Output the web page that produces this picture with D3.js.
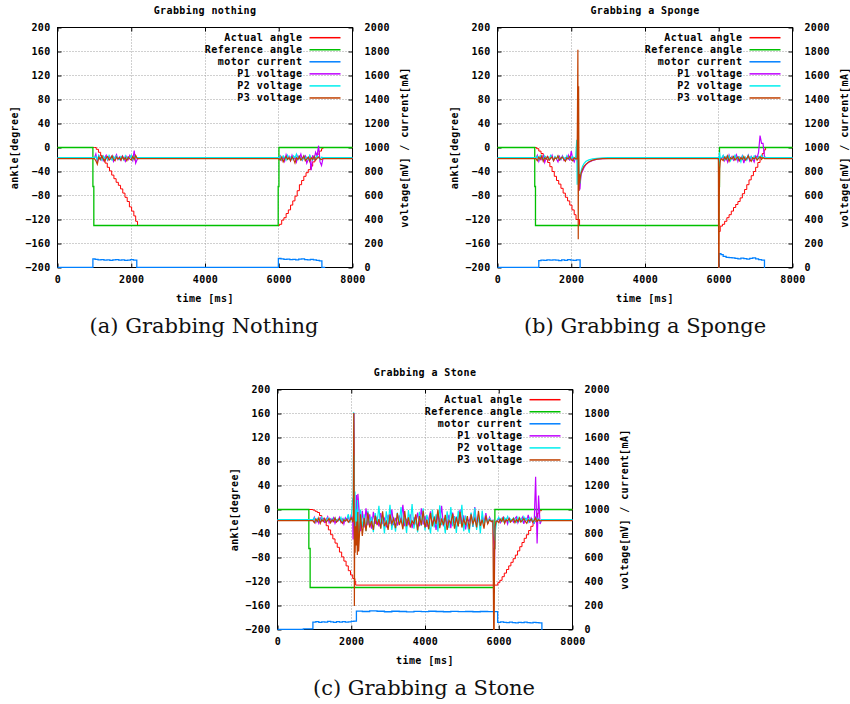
<!DOCTYPE html>
<html><head><meta charset="utf-8">
<script src="https://cdn.jsdelivr.net/npm/d3@7"></script>
<style>
body{margin:0;background:#fff;}
svg{display:block;}
</style></head><body><svg id="c" width="850" height="704"></svg>
<script>
// ---------- shared labels / ticks ----------
const categories = ["Actual angle","Reference angle","motor current","P1 voltage","P2 voltage","P3 voltage"];
const colors = ["#ff0000","#00c000","#0080ff","#c000ff","#00eeee","#c04000"];
const widths = [1.0, 1.3, 1.3, 1.2, 1.2, 1.2];
const xTicks = [0,2000,4000,6000,8000];
const yTicks = [-200,-160,-120,-80,-40,0,40,80,120,160,200];
const y2Ticks = [0,200,400,600,800,1000,1200,1400,1600,1800,2000];

// ---------- (a) Grabbing nothing ----------
const nothingActual = [[0,0],[1000,0],[1050,-3],[1110,-8],[1170,-14],[1230,-20],[1290,-26],[1350,-33],[1410,-39],[1470,-46],[1530,-52],[1590,-58],[1650,-63],[1710,-69],[1770,-76],[1830,-83],[1890,-90],[1950,-99],[2010,-106],[2070,-114],[2120,-123],[2170,-130],[5990,-130],[6020,-128],[6080,-121],[6140,-117],[6200,-110],[6260,-104],[6320,-96],[6380,-89],[6440,-81],[6500,-72],[6560,-62],[6620,-55],[6680,-48],[6740,-42],[6800,-37],[6860,-31],[6920,-24],[6980,-17],[7040,-11],[7100,-6],[7160,-2],[7200,0],[8000,0]];
const nothingRef = [[0,0],[960,-65],[985,-130],[5985,-65],[6005,0],[8000,0]];
const nothingCurrent = [[0,0],[960,72],[1020,68],[1100,64],[1180,66],[1260,62],[1340,64],[1420,60],[1500,63],[1580,66],[1660,61],[1740,64],[1820,60],[1900,62],[1980,65],[2060,62],[2150,0],[5990,75],[6060,72],[6140,68],[6220,70],[6300,66],[6380,68],[6460,64],[6540,70],[6620,72],[6700,66],[6780,63],[6860,68],[6940,64],[7020,60],[7100,55],[7170,0],[7260,0]];
const nothingT1 = [1000,1040,1080,1120,1160,1200,1240,1280,1320,1360,1400,1440,1480,1520,1560,1600,1640,1680,1720,1760,1800,1840,1880,1920,1960,2000,2040,2080,2120,2160];
const nothingT2 = [6000,6040,6080,6120,6160,6200,6240,6280,6320,6360,6400,6440,6480,6520,6560,6600,6640,6680,6720,6760,6800,6840,6880,6920,6960,7000,7040,7080,7120,7160,7200];
const nothingP1a = [910,945,880,930,900,925,890,915,935,895,920,905,930,885,915,940,900,920,895,930,910,885,925,900,935,915,890,975,870,900];
const nothingP2a = [916,925,900,935,915,895,930,910,920,900,935,915,895,925,905,930,910,900,925,915,895,930,905,920,910,935,900,925,915,916];
const nothingP3a = [908,890,860,920,900,930,905,885,915,925,895,910,930,900,890,920,905,915,895,925,900,915,890,920,905,895,925,900,935,908];
const nothingP1b = [910,930,895,920,885,940,905,925,890,935,900,920,880,930,910,945,895,915,930,870,900,925,810,935,905,960,930,1015,880,850,910];
const nothingP2b = [916,925,900,930,915,895,935,905,920,900,930,915,945,900,925,910,895,930,905,920,900,935,910,895,925,905,930,915,900,920,916];
const nothingP3b = [908,895,920,880,905,925,900,915,890,920,905,870,915,900,925,895,910,930,890,905,920,885,915,900,925,895,910,920,905,900,908];

// ---------- (b) Grabbing a Sponge ----------
const spongeActual = [[0,0],[1060,-2],[1120,-6],[1180,-10],[1240,-15],[1300,-20],[1360,-25],[1420,-32],[1480,-40],[1540,-48],[1600,-55],[1660,-61],[1720,-68],[1780,-76],[1840,-83],[1900,-89],[1960,-96],[2020,-104],[2080,-112],[2130,-120],[2225,-130],[5995,-140],[6040,-131],[6100,-128],[6160,-123],[6220,-117],[6280,-112],[6340,-106],[6400,-100],[6460,-95],[6520,-90],[6580,-84],[6640,-77],[6700,-70],[6760,-62],[6820,-54],[6880,-47],[6940,-40],[7000,-33],[7060,-25],[7120,-17],[7180,-10],[7230,-4],[7270,0],[8000,0]];
const spongeRef = [[0,0],[1010,-65],[1030,-130],[6000,-65],[6020,0],[8000,0]];
const spongeCurrent = [[0,0],[1120,58],[1180,62],[1260,60],[1340,63],[1420,61],[1500,64],[1580,62],[1660,58],[1740,63],[1820,60],[1900,65],[1980,62],[2060,60],[2140,64],[2240,-20],[6010,115],[6060,108],[6120,92],[6200,85],[6280,83],[6360,80],[6440,76],[6520,72],[6600,78],[6680,74],[6760,70],[6840,76],[6920,80],[7000,72],[7080,66],[7160,62],[7240,-20],[8000,-20]];
const spongeT1 = [1040,1080,1120,1160,1200,1240,1280,1320,1360,1400,1440,1480,1520,1560,1600,1640,1680,1720,1760,1800,1840,1880,1920,1960,2000,2040,2080,2120];
const spongeT2 = [6080,6120,6160,6200,6240,6280,6320,6360,6400,6440,6480,6520,6560,6600,6640,6680,6720,6760,6800,6840,6880,6920,6960,7000,7040,7080,7120,7160,7200,7240];
const spongeP1a = [910,935,885,920,900,930,875,915,925,895,910,935,890,920,905,880,925,900,930,895,915,900,935,890,970,905,880,920];
const spongeP2a = [916,925,900,935,915,895,930,905,920,900,935,915,895,925,905,930,910,900,925,915,895,930,905,920,910,925,900,915];
const spongeP3a = [908,890,920,900,930,885,915,905,925,895,910,920,890,915,905,930,895,910,920,900,885,915,905,925,900,890,915,905];
const spongeP1spike = [[2160,900],[2180,850],[2200,760],[2210,640],[2220,700],[2235,650],[2250,720],[2270,780],[2300,800],[2340,830],[2400,858],[2480,878],[2580,893],[2700,902],[2850,907],[3000,910]];
const spongeP2spike = [[2150,1065],[2160,690],[2175,900],[2190,1000],[2205,850],[2220,760],[2240,700],[2260,790],[2280,820],[2310,845],[2350,868],[2400,885],[2480,897],[2580,905],[2700,910],[2850,914],[3000,916]];
const spongeP3spike = [[2160,905],[2180,1815],[2190,235],[2200,1510],[2210,640],[2220,780],[2230,700],[2250,760],[2270,790],[2300,815],[2340,840],[2400,862],[2480,882],[2580,895],[2700,903],[2850,907],[3000,908]];
const spongeP1dip = [[5990,910],[6000,880],[6015,930],[6040,905]];
const spongeP2dip = [[5990,916],[6005,840],[6020,960],[6040,910]];
const spongeP3dip = [[5990,908],[5998,0],[6008,0],[6015,600],[6025,820],[6040,880],[6060,905]];
const spongeP1b = [905,930,890,920,880,935,900,925,895,915,940,885,920,905,930,870,915,900,935,890,925,905,880,930,915,960,1100,1035,1035,925];
const spongeP2b = [915,935,900,925,905,930,890,920,910,935,900,925,915,880,930,905,920,895,935,910,925,900,930,915,905,925,910,935,915,920];
const spongeP3b = [905,890,920,900,930,885,915,905,925,895,910,920,890,915,900,925,895,910,930,900,885,915,905,920,895,910,925,900,915,908];

// ---------- (c) Grabbing a Stone ----------
const stoneActual = [[0,0],[960,-1],[1020,-3],[1080,-5],[1140,-10],[1200,-15],[1260,-21],[1320,-27],[1380,-34],[1440,-42],[1500,-49],[1560,-56],[1620,-63],[1680,-71],[1740,-79],[1800,-86],[1860,-94],[1920,-102],[1980,-109],[2040,-115],[2100,-120],[2120,-126],[5975,-122],[6030,-118],[6090,-112],[6150,-106],[6210,-100],[6270,-94],[6330,-88],[6390,-82],[6450,-76],[6510,-69],[6570,-62],[6630,-55],[6690,-48],[6750,-42],[6810,-35],[6870,-28],[6930,-21],[6990,-13],[7050,-6],[7110,-2],[7160,0],[8000,0]];
const stoneRef = [[0,0],[850,-65],[885,-130],[5870,-65],[5895,0],[8000,0]];
const stoneCurrent = [[0,0],[700,6],[960,62],[1040,66],[1120,60],[1200,64],[1280,62],[1360,67],[1440,63],[1520,60],[1600,65],[1680,62],[1760,66],[1840,61],[1920,64],[2000,67],[2070,70],[2140,153],[2300,150],[2500,155],[2700,152],[2900,148],[3100,152],[3300,150],[3500,147],[3700,151],[3900,149],[4100,152],[4300,150],[4500,148],[4700,151],[4900,149],[5100,150],[5300,148],[5500,150],[5700,149],[5970,60],[6050,64],[6130,60],[6210,58],[6290,62],[6370,58],[6450,56],[6530,60],[6610,57],[6690,62],[6770,58],[6850,56],[6930,60],[7010,58],[7090,55],[7170,-20],[8000,-20]];
const stoneT1 = [960,1000,1040,1080,1120,1160,1200,1240,1280,1320,1360,1400,1440,1480,1520,1560,1600,1640,1680,1720,1760,1800,1840,1880,1920,1960,2000,2040];
const stoneTM = [2200,2250,2300,2350,2400,2450,2500,2550,2600,2650,2700,2750,2800,2850,2900,2950,3000,3050,3100,3150,3200,3250,3300,3350,3400,3450,3500,3550,3600,3650,3700,3750,3800,3850,3900,3950,4000,4050,4100,4150,4200,4250,4300,4350,4400,4450,4500,4550,4600,4650,4700,4750,4800,4850,4900,4950,5000,5050,5100,5150,5200,5250,5300,5350,5400,5450,5500,5550,5600,5650,5700,5750,5800];
const stoneT2 = [5960,6000,6040,6080,6120,6160,6200,6240,6280,6320,6360,6400,6440,6480,6520,6560,6600,6640,6680,6720,6760,6800,6840,6880,6920,6960,7000,7040,7080,7120,7160];
const stoneP1a = [910,935,890,920,885,930,905,925,895,915,940,890,920,900,930,885,915,905,935,895,920,880,930,910,945,890,960,915];
const stoneP2a = [915,930,900,925,910,895,935,905,920,900,930,915,895,925,905,930,900,920,910,935,895,925,905,920,960,900,930,1090];
const stoneP3a = [908,890,920,900,930,885,915,900,925,895,910,925,890,915,900,930,895,910,925,900,885,915,905,920,895,910,930,900];
const stoneP1spike = [[2050,750],[2062,900],[2075,1805],[2085,1200],[2095,850],[2110,1000],[2125,780],[2140,1120],[2160,830],[2180,1130]];
const stoneP2spike = [[2055,1100],[2065,1810],[2072,1100],[2080,1450],[2090,760],[2100,1150],[2115,820],[2130,1000],[2150,800],[2170,1080],[2185,840]];
const stoneP3spike = [[2055,910],[2068,1805],[2076,1550],[2085,195],[2095,900],[2105,640],[2120,860],[2135,700],[2150,900],[2165,620],[2180,980]];
const stoneP1m = [1050,820,990,850,1010,870,960,840,980,880,940,860,970,890,925,850,955,880,1000,870,930,865,950,900,1040,860,915,880,960,845,935,890,975,860,1010,875,945,855,920,985,870,940,830,965,895,1030,860,925,880,955,845,975,890,940,860,1000,880,950,835,920,900,965,855,1020,875,930,860,945,890,970,880,935,900];
const stoneP2m = [800,1000,850,960,820,990,870,940,810,970,880,1030,845,950,800,985,860,1040,830,935,815,975,880,1020,850,940,805,995,870,1045,840,930,810,980,865,1010,825,955,890,800,1000,850,960,815,1035,870,925,800,985,845,1020,860,945,805,990,880,1040,820,950,870,805,975,855,1015,830,960,800,990,870,940,890,925,905];
const stoneP3m = [650,960,780,930,820,975,850,905,830,950,870,920,840,985,860,900,830,960,880,925,845,970,870,915,835,990,860,935,850,905,880,960,825,945,870,990,850,915,835,970,860,930,880,1000,845,925,870,955,830,910,885,965,840,935,860,980,850,920,870,945,835,960,880,925,850,990,865,915,840,950,880,915,900];
const stoneP1end = [[5840,910],[5868,700],[5880,305],[5892,800],[5910,880],[5935,905]];
const stoneP2end = [[5840,905],[5870,820],[5890,740],[5905,805],[5925,860],[5945,900]];
const stoneP3end = [[5840,905],[5862,0],[5876,0],[5886,640],[5900,860],[5930,900]];
const stoneP1b = [905,925,890,915,935,895,920,880,930,905,915,895,925,940,890,920,905,935,880,925,910,955,890,930,905,880,1272,717,1117,880,910];
const stoneP2b = [915,935,905,925,900,930,910,940,895,920,905,930,915,895,935,905,925,900,940,910,925,895,930,905,920,890,935,910,925,900,915];
const stoneP3b = [905,890,920,900,930,885,915,905,925,895,910,925,890,915,900,930,895,910,925,900,885,915,905,920,895,910,930,900,915,905,908];

// ---------- assemble series tables ----------
const zip = (ts, vs) => ts.map((t, i) => [t, vs[i]]);
const cat = (...parts) => [].concat(...parts);

const panels = [
  { key:"a", left:57.5, top:27.5, title:"Grabbing nothing", caption:"(a) Grabbing Nothing", capX:204, capY:333,
    series:[nothingActual, nothingRef, nothingCurrent,
      cat([[0,910],[960,910]], zip(nothingT1,nothingP1a), [[2200,910],[5960,910]], zip(nothingT2,nothingP1b), [[8000,910]]),
      cat([[0,916],[960,916]], zip(nothingT1,nothingP2a), [[2200,916],[5960,916]], zip(nothingT2,nothingP2b), [[8000,916]]),
      cat([[0,908],[960,908]], zip(nothingT1,nothingP3a), [[2200,908],[5960,908]], zip(nothingT2,nothingP3b), [[8000,908]])
    ]},
  { key:"b", left:497.5, top:27.5, title:"Grabbing a Sponge", caption:"(b) Grabbing a Sponge", capX:645, capY:333,
    series:[spongeActual, spongeRef, spongeCurrent,
      cat([[0,910],[1000,910]], zip(spongeT1,spongeP1a), spongeP1spike, spongeP1dip, zip(spongeT2,spongeP1b), [[7280,910],[8000,910]]),
      cat([[0,916],[1000,916]], zip(spongeT1,spongeP2a), spongeP2spike, spongeP2dip, zip(spongeT2,spongeP2b), [[7280,916],[8000,916]]),
      cat([[0,908],[1000,908]], zip(spongeT1,spongeP3a), spongeP3spike, spongeP3dip, zip(spongeT2,spongeP3b), [[7280,908],[8000,908]])
    ]},
  { key:"c", left:277.5, top:389.5, title:"Grabbing a Stone", caption:"(c) Grabbing a Stone", capX:424, capY:695,
    series:[stoneActual, stoneRef, stoneCurrent,
      cat([[0,910],[940,910]], zip(stoneT1,stoneP1a), stoneP1spike, zip(stoneTM,stoneP1m), stoneP1end, zip(stoneT2,stoneP1b), [[7200,910],[8000,910]]),
      cat([[0,916],[940,916]], zip(stoneT1,stoneP2a), stoneP2spike, zip(stoneTM,stoneP2m), stoneP2end, zip(stoneT2,stoneP2b), [[7200,916],[8000,916]]),
      cat([[0,908],[940,908]], zip(stoneT1,stoneP3a), stoneP3spike, zip(stoneTM,stoneP3m), stoneP3end, zip(stoneT2,stoneP3b), [[7200,908],[8000,908]])
    ]}
];

// ---------- drawing ----------
const svg = d3.select("#c");
const MONO = "'DejaVu Sans Mono', monospace";
const W = 295, H = 240;
const fmt = d3.format("d");

function styleAxis(sel, ls){
  sel.select(".domain").remove();
  sel.attr("font-family", MONO).attr("font-size", 10).attr("font-weight", "bold");
  sel.selectAll("text").attr("fill", "#000").attr("letter-spacing", ls);
  sel.selectAll("line").attr("stroke", "#000");
}

panels.forEach(p => {
  const g = svg.append("g").attr("transform", `translate(${p.left},${p.top})`);
  const x = d3.scaleLinear().domain([0, 8000]).range([0, W]);
  const y = d3.scaleLinear().domain([-200, 200]).range([H, 0]);
  const y2 = d3.scaleLinear().domain([0, 2000]).range([H, 0]);
  const clipId = "clip" + p.key;
  g.append("clipPath").attr("id", clipId).append("rect")
    .attr("x", -0.5).attr("y", -0.5).attr("width", W + 1).attr("height", H + 1);

  // grid
  const grid = g.append("g").attr("stroke", "#a0a0a0").attr("stroke-width", 1).attr("stroke-dasharray", "1,2");
  grid.selectAll("line.gx").data(xTicks.filter(d => d > 0 && d < 8000)).join("line").attr("class", "gx")
    .attr("x1", d => Math.round(x(d))).attr("x2", d => Math.round(x(d))).attr("y1", 0).attr("y2", H);
  grid.selectAll("line.gy").data(yTicks.filter(d => d > -200 && d < 200)).join("line").attr("class", "gy")
    .attr("x1", 0).attr("x2", W).attr("y1", d => Math.round(y(d))).attr("y2", d => Math.round(y(d)));

  // border
  g.append("rect").attr("x", 0).attr("y", 0).attr("width", W).attr("height", H)
    .attr("fill", "none").attr("stroke", "#000").attr("stroke-width", 1);

  // axes
  const axB = g.append("g").attr("transform", `translate(0,${H})`)
    .call(d3.axisBottom(x).tickValues(xTicks).tickFormat(fmt).tickSize(-4).tickPadding(8));
  styleAxis(axB, "0.3px");
  const axT = g.append("g").call(d3.axisTop(x).tickValues(xTicks).tickSize(-4).tickFormat(""));
  styleAxis(axT, "0");
  const axL = g.append("g").call(d3.axisLeft(y).tickValues(yTicks).tickFormat(fmt).tickSize(-4).tickPadding(7));
  styleAxis(axL, "0.3px");
  const axR = g.append("g").attr("transform", `translate(${W},0)`)
    .call(d3.axisRight(y2).tickValues(y2Ticks).tickFormat(fmt).tickSize(-4).tickPadding(12));
  styleAxis(axR, "0.3px");

  // series
  p.series.forEach((s, i) => {
    const sc = i < 2 ? y : y2;
    const line = d3.line().x(d => x(d[0])).y(d => sc(d[1]))
      .curve(i <= 2 ? d3.curveStepAfter : d3.curveLinear);
    g.append("path").attr("clip-path", `url(#${clipId})`).datum(s)
      .attr("d", line).attr("fill", "none").attr("stroke", colors[i]).attr("stroke-width", widths[i]);
  });

  // legend
  categories.forEach((c, i) => {
    const yy = 10.2 + 12.05 * i;
    g.append("text").attr("x", W - 50).attr("y", yy).attr("dy", "0.35em").attr("text-anchor", "end")
      .attr("font-family", MONO).attr("font-size", 10).attr("font-weight", "bold").attr("letter-spacing", "0.5px").text(c);
    g.append("line").attr("x1", W - 43).attr("x2", W - 12).attr("y1", yy).attr("y2", yy)
      .attr("stroke", colors[i]).attr("stroke-width", 1.5);
  });

  // title and axis labels
  const lbl = (sel) => sel.attr("font-family", MONO).attr("font-size", 10).attr("font-weight", "bold").attr("letter-spacing", "0.4px").attr("text-anchor", "middle");
  g.append("text").attr("x", W / 2).attr("y", -17.5).attr("dy", "0.35em").text(p.title).call(lbl);
  g.append("text").attr("x", W / 2).attr("y", H + 30.5).attr("dy", "0.35em").text("time [ms]").call(lbl);
  g.append("text").attr("transform", `translate(-43.5,${H / 2}) rotate(-90)`).attr("dy", "0.35em").text("ankle[degree]").call(lbl);
  g.append("text").attr("transform", `translate(${W + 52},${H / 2}) rotate(-90)`).attr("dy", "0.35em").text("voltage[mV] / current[mA]").call(lbl);

  // caption
  svg.append("text").attr("x", p.capX).attr("y", p.capY).attr("text-anchor", "middle")
    .attr("font-family", "'DejaVu Serif', serif").attr("font-size", 21).attr("fill", "#111").text(p.caption);
});
</script></body></html>
